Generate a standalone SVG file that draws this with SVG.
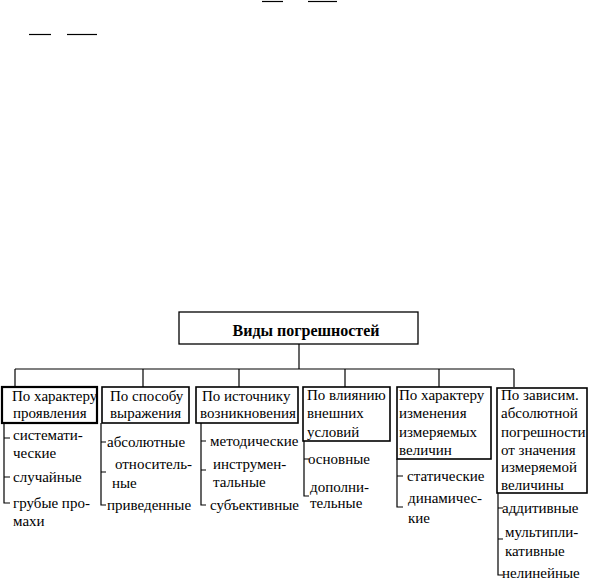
<svg xmlns="http://www.w3.org/2000/svg" width="589" height="581" viewBox="0 0 589 581">
<style>
text{font-family:"Liberation Serif","Times New Roman",serif;font-size:15px;fill:#000}
.t{font-weight:bold;font-size:16px}
.box{fill:#fff;stroke:#000;stroke-width:1.6}
.b1{stroke-width:2.2}
.ln{stroke:#000;stroke-width:1.2;fill:none}
</style>
<rect width="589" height="581" fill="#fff"/>
<g id="fragments" class="ln">
<line x1="262" y1="1.5" x2="283" y2="1.5"/>
<line x1="308" y1="1.5" x2="337" y2="1.5"/>
<line x1="29" y1="34.5" x2="51" y2="34.5"/>
<line x1="67" y1="34.5" x2="97" y2="34.5"/>
</g>
<g id="connectors" class="ln">
<line x1="299" y1="344" x2="299" y2="369"/>
<line x1="15" y1="369" x2="514" y2="369"/>
<line x1="15" y1="369" x2="15" y2="387"/>
<line x1="143" y1="369" x2="143" y2="387"/>
<line x1="239" y1="369" x2="239" y2="387"/>
<line x1="345" y1="369" x2="345" y2="387"/>
<line x1="439" y1="369" x2="439" y2="387"/>
<line x1="514" y1="369" x2="514" y2="387"/>
<path d="M4 438H10M4 477H10M4 423V503H10"/>
<path d="M101 442H106M101 472H106M101 423V505H106"/>
<path d="M201 441H206M201 470H206M201 423V505H206"/>
<path d="M304 459H309M304 441V496H309"/>
<path d="M397 476H403M397 459V507H403"/>
<path d="M498 508H503M498 539H503M498 493V575H503"/>
</g>
<g id="root">
<rect class="box" x="179" y="312" width="239" height="32" style="stroke-width:1.3"/>
<text class="t" x="306" y="336" text-anchor="middle">Виды погрешностей</text>
</g>
<g id="n1">
<rect class="box b1" x="2" y="387" width="95" height="36"/>
<text x="12" y="401">По характеру</text>
<text x="13" y="418">проявления</text>
<text x="13" y="440">системати-</text>
<text x="13" y="458">ческие</text>
<text x="13" y="482">случайные</text>
<text x="13" y="508">грубые про-</text>
<text x="13" y="526">махи</text>
</g>
<g id="n2">
<rect class="box" x="102" y="387" width="87" height="36"/>
<text x="110" y="401">По способу</text>
<text x="110" y="418">выражения</text>
<text x="107" y="447">абсолютные</text>
<text x="115" y="469">относитель-</text>
<text x="112" y="488">ные</text>
<text x="107" y="510">приведенные</text>
</g>
<g id="n3">
<rect class="box" x="196" y="387" width="102" height="36"/>
<text x="202" y="401">По источнику</text>
<text x="200" y="418">возникновения</text>
<text x="210" y="446">методические</text>
<text x="213" y="469">инструмен-</text>
<text x="213" y="487">тальные</text>
<text x="210" y="510">субъективные</text>
</g>
<g id="n4">
<rect class="box" x="303" y="387" width="87" height="54"/>
<text x="307" y="400">По влиянию</text>
<text x="307" y="418">внешних</text>
<text x="307" y="437">условий</text>
<text x="308" y="464">основные</text>
<text x="310" y="492">дополни-</text>
<text x="310" y="508">тельные</text>
</g>
<g id="n5">
<rect class="box" x="397" y="387" width="94" height="72"/>
<text x="399" y="400">По характеру</text>
<text x="399" y="418">изменения</text>
<text x="399" y="437">измеряемых</text>
<text x="399" y="455">величин</text>
<text x="407" y="481">статические</text>
<text x="408" y="503">динамичес-</text>
<text x="408" y="523">кие</text>
</g>
<g id="n6">
<rect class="box" x="497" y="388" width="90" height="105"/>
<text x="501" y="400">По зависим.</text>
<text x="501" y="418">абсолютной</text>
<text x="501" y="437">погрешности</text>
<text x="501" y="455">от значения</text>
<text x="501" y="472">измеряемой</text>
<text x="501" y="490">величины</text>
<text x="502" y="513">аддитивные</text>
<text x="505" y="537">мультипли-</text>
<text x="505" y="556">кативные</text>
<text x="502" y="578">нелинейные</text>
</g>
</svg>
